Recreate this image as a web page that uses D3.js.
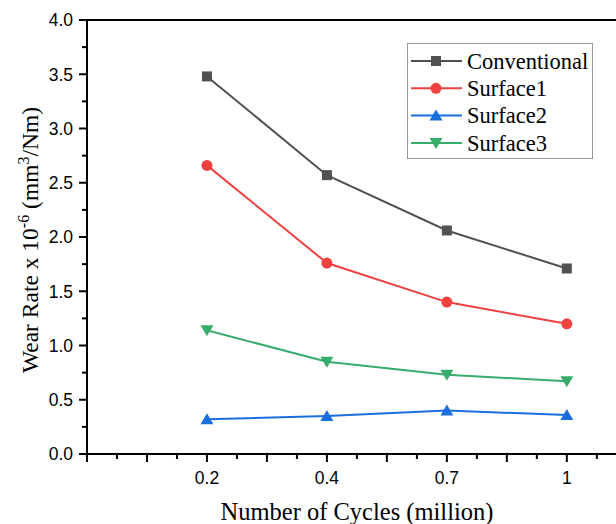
<!DOCTYPE html>
<html>
<head>
<meta charset="utf-8">
<script src="https://cdn.jsdelivr.net/npm/d3@7"></script>
<style>
  body { margin: 0; background: #fff; }
  svg { display: block; }
</style>
</head>
<body>
<div id="chart"></div>
<script>
// categories along the x axis and the four series
var cycles = ["0.2", "0.4", "0.7", "1"];
var seriesNames = ["Conventional", "Surface1", "Surface2", "Surface3"];
var conventional = [3.48, 2.57, 2.06, 1.71];
var surface1 = [2.66, 1.76, 1.40, 1.20];
var surface2 = [0.32, 0.35, 0.40, 0.36];
var surface3 = [1.14, 0.85, 0.73, 0.67];
var yTicks = [0, 0.5, 1.0, 1.5, 2.0, 2.5, 3.0, 3.5, 4.0];

var colors = ["#515151", "#F14040", "#1A6FDF", "#37AD6B"];
var symbols = ["square", "circle", "triUp", "triDown"];

var width = 616,
    height = 524;
var margin = {left: 87, top: 20, bottom: 70};

var svg = d3.select("#chart").append("svg")
            .attr("width", width)
            .attr("height", height);

// x is index based: category i sits at i + 1
var x = d3.scaleLinear()
          .domain([0, 4.41])
          .range([margin.left, width]);

var y = d3.scaleLinear()
          .domain([0, 4])
          .range([height - margin.bottom, margin.top]);

var y0 = y(0);
var tickFont = "17.5px 'Liberation Sans', Arial, sans-serif";
var serif = "'Liberation Serif', 'Times New Roman', serif";

// top frame line
svg.append("line")
   .attr("x1", margin.left).attr("x2", width)
   .attr("y1", y(4)).attr("y2", y(4))
   .attr("stroke", "#000").attr("stroke-width", 2);

// x axis
var xg = svg.append("g");
xg.append("line")
  .attr("x1", margin.left - 1).attr("x2", width)
  .attr("y1", y0).attr("y2", y0)
  .attr("stroke", "#000").attr("stroke-width", 2);

var xTickVals = d3.range(0, 4.41, 0.25);
xg.selectAll(".xt").data(xTickVals).enter().append("line")
  .attr("x1", function(d) { return x(d); })
  .attr("x2", function(d) { return x(d); })
  .attr("y1", y0)
  .attr("y2", function(d) { return y0 + (d % 0.5 === 0 ? 8 : 5); })
  .attr("stroke", "#000").attr("stroke-width", 2);

xg.selectAll(".xl").data(cycles).enter().append("text")
  .attr("x", function(d, i) { return x(i + 1); })
  .attr("y", y0 + 30)
  .attr("text-anchor", "middle")
  .style("font", tickFont)
  .text(function(d) { return d; });

// y axis
var yg = svg.append("g");
yg.append("line")
  .attr("x1", margin.left).attr("x2", margin.left)
  .attr("y1", y(4) - 1).attr("y2", y0 + 1)
  .attr("stroke", "#000").attr("stroke-width", 2);

var yTickVals = d3.range(0, 4.01, 0.25);
yg.selectAll(".yt").data(yTickVals).enter().append("line")
  .attr("x1", margin.left)
  .attr("x2", function(d) { return margin.left - (d % 0.5 === 0 ? 8 : 5); })
  .attr("y1", function(d) { return y(d); })
  .attr("y2", function(d) { return y(d); })
  .attr("stroke", "#000").attr("stroke-width", 2);

yg.selectAll(".yl").data(yTicks).enter().append("text")
  .attr("x", margin.left - 14)
  .attr("y", function(d) { return y(d); })
  .attr("dy", "0.36em")
  .attr("text-anchor", "end")
  .style("font", tickFont)
  .text(function(d) { return d.toFixed(1); });

// axis titles
svg.append("text")
   .attr("x", 357)
   .attr("y", 520)
   .attr("text-anchor", "middle")
   .style("font", "24.5px " + serif)
   .text("Number of Cycles (million)");

var yt = svg.append("text")
   .attr("transform", "translate(38," + ((y(0) + y(4)) / 2 + 3) + ") rotate(-90)")
   .attr("text-anchor", "middle")
   .style("font", "23.5px " + serif);
yt.append("tspan").text("Wear Rate x 10");
yt.append("tspan").attr("dy", -9).style("font-size", "16px").text("-6");
yt.append("tspan").attr("dy", 9).text(" (mm");
yt.append("tspan").attr("dy", -9).style("font-size", "16px").text("3");
yt.append("tspan").attr("dy", 9).text("/Nm)");

// markers
function drawMarker(g, type, color) {
  if (type === "square") {
    g.append("rect").attr("x", -5).attr("y", -5).attr("width", 10).attr("height", 10)
     .attr("fill", color);
  } else if (type === "circle") {
    g.append("circle").attr("r", 5.5).attr("fill", color);
  } else if (type === "triUp") {
    g.append("path").attr("d", "M0,-6L6.5,5L-6.5,5Z").attr("fill", color);
  } else {
    g.append("path").attr("d", "M0,6L6.5,-5L-6.5,-5Z").attr("fill", color);
  }
}

var allSeries = [conventional, surface1, surface2, surface3];

var line = d3.line()
             .x(function(d, i) { return x(i + 1); })
             .y(function(d) { return y(d); });

allSeries.forEach(function(vals, s) {
  svg.append("path")
     .attr("d", line(vals))
     .attr("fill", "none")
     .attr("stroke", colors[s])
     .attr("stroke-width", 2);
  vals.forEach(function(v, i) {
    var g = svg.append("g")
               .attr("transform", "translate(" + x(i + 1) + "," + y(v) + ")");
    drawMarker(g, symbols[s], colors[s]);
  });
});

// legend
var lg = svg.append("g");
lg.append("rect")
  .attr("x", 407.5).attr("y", 43.5).attr("width", 185).attr("height", 115)
  .attr("fill", "#fff").attr("stroke", "#999").attr("stroke-width", 1);

seriesNames.forEach(function(name, s) {
  var cy = 61 + s * 27.3;
  lg.append("line")
    .attr("x1", 411).attr("x2", 462).attr("y1", cy).attr("y2", cy)
    .attr("stroke", colors[s]).attr("stroke-width", 2);
  var g = lg.append("g").attr("transform", "translate(436," + cy + ")");
  drawMarker(g, symbols[s], colors[s]);
  lg.append("text")
    .attr("x", 467).attr("y", cy).attr("dy", "0.34em")
    .style("font", "22.5px " + serif)
    .text(name);
});
</script>
</body>
</html>
